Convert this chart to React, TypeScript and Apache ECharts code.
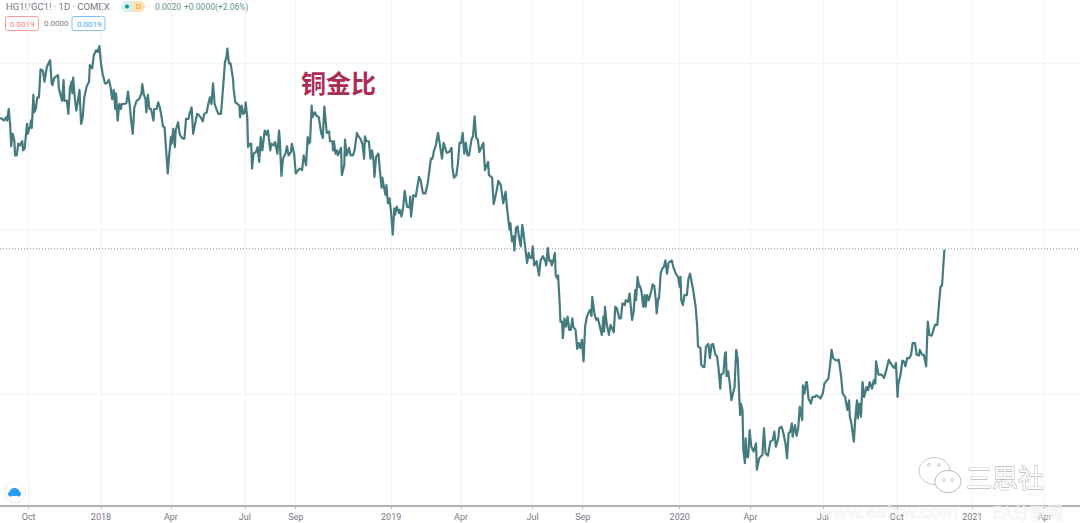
import React, { useEffect, useRef } from "react";
import * as echarts from "echarts";

// Day offset from the left edge of the window, ratio in millionths
const trace2017: number[][] = [[0,2134],[3,2133],[5,2131],[8,2135],[9,2131],[11,2145],[13,2123],[14,2100],[16,2115],[18,2107],[19,2089],[21,2089],[23,2103],[25,2101],[28,2106],[29,2095],[31,2097],[34,2127],[35,2115],[38,2125],[39,2131],[40,2122],[42,2162],[43,2141],[45,2145],[47,2159],[49,2159],[51,2193],[54,2191],[56,2178],[59,2196],[61,2200],[63,2204],[65,2176],[66,2174],[68,2182],[70,2184],[73,2186],[74,2170],[75,2166],[78,2155],[80,2180],[81,2155],[84,2155],[86,2139],[88,2170],[90,2178],[91,2164],[92,2183],[94,2159],[96,2143],[98,2155],[100,2168],[102,2127],[104,2135],[106,2159],[109,2172],[112,2178],[113,2198],[116,2194],[118,2210],[121,2216],[123,2214],[125,2221]];
const trace2018a: number[][] = [[127,2200],[129,2188],[132,2176],[134,2176],[137,2180],[139,2172],[141,2157],[143,2168],[145,2145],[146,2164],[148,2131],[150,2151],[152,2145],[153,2151],[156,2151],[159,2152],[161,2166],[163,2151],[165,2131],[167,2115],[169,2147],[172,2155],[175,2157],[178,2164],[179,2175],[181,2162],[183,2157],[184,2141],[186,2162],[188,2145],[190,2145],[193,2131],[194,2145],[197,2145],[199,2153],[201,2147],[203,2137],[205,2124],[207,2123],[209,2095],[211,2067],[213,2091],[215,2111],[216,2103],[218,2121],[220,2099],[221,2119],[224,2129],[226,2115],[228,2111],[231,2109],[232,2109],[234,2133],[237,2133],[239,2141],[241,2147],[243,2115],[245,2125],[248,2139],[250,2138],[253,2134],[255,2130],[257,2139],[260,2141],[262,2151],[264,2159],[266,2151],[268,2176],[270,2151],[273,2143],[275,2139],[278,2139],[281,2176],[283,2202],[285,2208],[286,2218],[288,2200],[290,2200],[293,2182],[294,2168],[296,2153],[299,2151],[301,2149],[302,2135],[304,2149],[306,2139],[308,2141],[309,2153],[311,2135],[312,2099],[314,2103],[316,2103],[317,2073],[319,2091],[322,2093],[324,2099],[326,2081],[328,2111],[330,2095],[333,2119],[335,2114],[337,2119],[340,2095],[341,2103],[344,2101],[346,2105],[349,2091],[351,2119],[352,2107],[354,2064],[356,2085],[359,2091],[361,2100],[363,2089],[366,2093],[367,2103],[370,2091],[372,2067],[375,2071],[377,2073],[380,2071],[382,2089],[385,2077],[387,2111],[388,2103],[390,2105],[392,2149],[393,2135],[396,2141],[398,2137],[401,2135],[404,2116],[406,2110],[408,2148],[411,2116],[414,2118],[415,2106],[418,2106],[419,2095],[420,2106],[422,2091],[424,2095],[425,2089],[427,2093],[429,2098],[430,2065],[433,2077],[434,2108],[436,2089],[439,2098],[441,2089],[444,2089],[446,2095],[449,2116],[451,2112],[454,2108],[456,2102],[458,2085],[459,2112],[461,2106],[464,2106],[466,2085],[468,2095],[470,2081],[471,2063],[473,2087],[476,2091],[478,2069],[480,2050],[481,2062],[483,2050],[485,2041],[486,2053],[488,2031],[490,2037]];
const trace2019: number[][] = [[492,2019],[494,1993],[496,2025],[497,2017],[499,2027],[502,2019],[503,2023],[505,2015],[507,2025],[509,2046],[512,2027],[515,2026],[516,2039],[517,2015],[520,2041],[523,2039],[527,2063],[529,2059],[532,2043],[535,2043],[538,2055],[542,2085],[544,2085],[546,2095],[548,2100],[551,2116],[553,2104],[556,2085],[558,2104],[562,2092],[565,2093],[568,2098],[569,2075],[571,2062],[574,2065],[576,2079],[578,2104],[580,2104],[582,2116],[584,2091],[586,2104],[588,2089],[590,2089],[593,2108],[595,2112],[597,2136],[599,2110],[601,2108],[603,2093],[608,2104],[610,2071],[614,2081],[615,2065],[619,2062],[621,2030],[624,2043],[627,2058],[630,2053],[633,2031],[636,2045],[638,2023],[641,1999],[642,2007],[644,1985],[646,1991],[647,1974],[649,2001],[651,2003],[653,1989],[655,1979],[657,2005],[659,1991],[662,1967],[663,1959],[665,1971],[667,1965],[669,1965],[670,1979],[672,1956],[675,1961],[678,1944],[680,1962],[683,1967],[686,1961],[687,1956],[689,1977],[691,1961],[693,1962],[694,1956],[696,1962],[698,1971],[699,1944],[701,1940],[702,1944],[704,1910],[705,1888],[707,1888],[708,1868],[710,1892],[712,1882],[714,1894],[716,1878],[718,1878],[720,1892],[721,1882],[724,1878],[726,1855],[728,1862],[730,1856],[732,1866],[734,1840],[736,1882],[738,1893],[740,1898],[742,1902],[744,1895],[745,1918],[748,1896],[750,1890],[752,1892],[755,1880],[757,1872],[759,1894],[760,1876],[761,1906],[763,1886],[766,1872],[768,1884],[770,1880],[772,1875],[774,1906],[776,1904],[779,1892],[781,1892],[783,1910],[786,1908],[787,1914],[790,1912],[792,1922],[795,1890],[797,1900],[799,1926],[800,1914],[802,1942],[804,1930],[805,1931],[807,1924],[809,1906],[811,1920],[812,1906],[814,1920],[816,1914],[819,1924],[821,1933],[823,1931],[825,1914],[826,1898],[828,1916],[829,1916],[831,1946],[833,1952],[835,1954],[837,1962],[839,1946],[841,1959],[845,1962],[847,1954]];
const trace2020: number[][] = [[850,1946],[853,1942],[855,1930],[856,1942],[857,1914],[859,1908],[861,1920],[864,1920],[866,1940],[868,1946],[870,1936],[872,1926],[875,1906],[877,1882],[878,1858],[881,1856],[882,1836],[885,1833],[886,1833],[888,1858],[891,1861],[893,1844],[895,1860],[897,1861],[900,1848],[902,1846],[904,1830],[906,1807],[907,1824],[910,1826],[912,1850],[913,1851],[914,1822],[916,1828],[918,1813],[920,1793],[924,1809],[926,1854],[928,1842],[930,1795],[931,1775],[932,1789],[934,1781],[935,1733],[937,1717],[938,1747],[939,1725],[941,1724],[943,1757],[945,1737],[948,1731],[951,1741],[952,1709],[955,1723],[959,1727],[961,1759],[963,1729],[966,1726],[969,1743],[972,1745],[974,1755],[976,1737],[979,1747],[980,1759],[983,1761],[985,1755],[988,1741],[990,1723],[992,1753],[994,1755],[996,1765],[997,1749],[1000,1763],[1002,1750],[1004,1759],[1006,1785],[1009,1769],[1010,1811],[1012,1801],[1014,1815],[1015,1815],[1017,1795],[1020,1789],[1022,1797],[1025,1797],[1027,1799],[1030,1797],[1032,1795],[1035,1801],[1037,1813],[1040,1817],[1042,1819],[1044,1834],[1046,1854],[1048,1844],[1050,1842],[1053,1841],[1055,1842],[1058,1822],[1060,1801],[1063,1797],[1066,1781],[1068,1793],[1069,1773],[1071,1765],[1074,1743],[1076,1773],[1078,1793],[1079,1771],[1081,1789],[1083,1773],[1085,1815],[1087,1797],[1090,1809],[1092,1805],[1094,1815],[1097,1807],[1099,1817],[1101,1813],[1102,1840],[1105,1824],[1107,1824],[1109,1824],[1112,1820],[1115,1830],[1118,1842],[1120,1838],[1123,1834],[1125,1832],[1127,1838],[1129,1797],[1130,1813],[1133,1825],[1135,1841],[1137,1840],[1139,1834],[1141,1844],[1144,1844],[1146,1848],[1148,1862],[1151,1862],[1153,1848],[1156,1847],[1157,1854],[1160,1848],[1162,1848],[1165,1834],[1167,1888],[1169,1872],[1172,1871],[1176,1884],[1179,1884],[1181,1908],[1183,1930],[1185,1932],[1187,1962],[1188,1975]];

const tickDays = [36, 127, 215, 308, 372, 492, 580, 670, 733, 855, 944, 1035, 1128, 1223, 1314];
const tickLabels = ["Oct", "2018", "Apr", "Jul", "Sep", "2019", "Apr", "Jul", "Sep", "2020", "Apr", "Jul", "Oct", "2021", "Apr"];
const gridLevels = [0.0018, 0.002, 0.0022];
const lastPriceLine = 0.001976;
const axisStartDay = 0;
const axisEndDay = 1358.5;

const UI = "Roboto, 'Liberation Sans', sans-serif";
const CJK = "'Noto Sans CJK SC', sans-serif";
const LINE = "#457b7e";

export default function App() {
  const ref = useRef<HTMLDivElement>(null);
  useEffect(() => {
    const chart = echarts.init(ref.current!, undefined, { renderer: "svg" });
    const points = [...trace2017, ...trace2018a, ...trace2019, ...trace2020].map(([d, v]) => [d, v / 1e6]);
    const label = (x: number, y: number, text: string, fill: string, size = 9, extra: any = {}) => ({
      type: "text", x, y, silent: true,
      style: { text, fill, font: `${extra.weight || "normal"} ${size}px ${extra.family || UI}`, textVerticalAlign: "middle", ...extra.style },
    });
    chart.setOption({
      animation: false,
      backgroundColor: "#ffffff",
      grid: { left: 0, right: 0, top: 0, bottom: 17 },
      xAxis: {
        type: "value",
        min: axisStartDay,
        max: axisEndDay,
        axisLine: { show: true, onZero: false, lineStyle: { color: "#9a9da6", width: 1.5 } },
        axisTick: { show: true, length: 3, lineStyle: { color: "#b2b5be" }, customValues: tickDays },
        axisLabel: {
          color: "#777a84", fontSize: 9, fontFamily: UI, margin: 6,
          customValues: tickDays, hideOverlap: false,
          showMinLabel: true, showMaxLabel: true,
          formatter: (v: number) => tickLabels[tickDays.indexOf(v)] ?? "",
        },
        splitLine: { show: true, lineStyle: { color: "#f2f3f7", width: 1 } },
      },
      yAxis: {
        type: "value",
        min: 0.0016652,
        max: 0.0022767,
        axisLine: { show: false },
        axisTick: { show: false, customValues: gridLevels },
        axisLabel: { show: false, customValues: gridLevels },
        splitLine: { show: true, lineStyle: { color: "#f3f4f7", width: 1 } },
      },
      series: [
        {
          type: "line",
          data: [[axisStartDay, lastPriceLine], [axisEndDay, lastPriceLine]],
          showSymbol: false,
          silent: true,
          lineStyle: { color: "#76a0a0", type: [1, 2], width: 1 },
          z: 3,
        },
        {
          type: "line",
          data: points,
          showSymbol: false,
          smooth: false,
          lineStyle: { color: LINE, width: 2.2, join: "round" },
          itemStyle: { color: LINE },
          silent: true,
          z: 5,
        },
      ],
      graphic: [
        label(6, 6.5, "HG1!/GC1! · 1D · COMEX", "#787b86", 9.5),
        { type: "rect", shape: { x: 121, y: 1, width: 24, height: 11, r: 5.5 }, style: { fill: "#d9f0ec" } },
        { type: "rect", shape: { x: 133, y: 1, width: 12, height: 11, r: [0, 5.5, 5.5, 0] }, style: { fill: "#fde0b4" } },
        { type: "circle", shape: { cx: 127, cy: 6.5, r: 2 }, style: { fill: "#089981" } },
        label(136, 6.5, "D", "#ff9800", 8),
        label(155, 6.5, "0.0020", "#5e9290", 8.5),
        label(184, 6.5, "+0.0000", "#5e9290", 8.5),
        label(215, 6.5, "(+2.06%)", "#5e9290", 8.5),
        { type: "rect", shape: { x: 5.5, y: 16.5, width: 33, height: 14, r: 2 }, style: { fill: "#fff", stroke: "#f99", lineWidth: 1 } },
        { ...label(10, 24, "0.0019", "#f77c80", 8), z: 2 },
        label(44, 23, "0.0000", "#787b86", 8),
        { type: "rect", shape: { x: 72, y: 16.5, width: 33, height: 14, r: 2 }, style: { fill: "#fff", stroke: "#7cc0f5", lineWidth: 1 } },
        { ...label(77, 24, "0.0019", "#42a5f5", 8), z: 2 },
        label(301, 82, "铜金比", "#ab2c57", 25, { weight: "bold", family: CJK }),
        // platform badge
        { type: "circle", shape: { cx: 15, cy: 492, r: 10.5 }, style: { fill: "#fff", stroke: "#eceef2", lineWidth: 1 } },
        { type: "ellipse", shape: { cx: 14.5, cy: 492, rx: 5, ry: 4 }, style: { fill: "#2f9cf0" } },
        { type: "circle", shape: { cx: 10.5, cy: 494, r: 2.5 }, style: { fill: "#2f9cf0" } },
        { type: "circle", shape: { cx: 18.5, cy: 494, r: 2.5 }, style: { fill: "#2f9cf0" } },
        // watermarks
        { type: "ellipse", z: 20, shape: { cx: 934.5, cy: 471, rx: 15.5, ry: 13.5 }, style: { fill: "#fff", stroke: "#c8c8c8", lineWidth: 1 } },
        { type: "ellipse", z: 20, shape: { cx: 948, cy: 481.5, rx: 13, ry: 11 }, style: { fill: "#fff", stroke: "#bbbbbb", lineWidth: 1 } },
        { type: "circle", z: 21, shape: { cx: 929, cy: 465, r: 1.4 }, style: { fill: "#fff", stroke: "#aaa", lineWidth: 0.7 } },
        { type: "circle", z: 21, shape: { cx: 939, cy: 465, r: 1.4 }, style: { fill: "#fff", stroke: "#aaa", lineWidth: 0.7 } },
        { type: "circle", z: 21, shape: { cx: 944, cy: 480, r: 1.4 }, style: { fill: "#fff", stroke: "#aaa", lineWidth: 0.7 } },
        { type: "circle", z: 21, shape: { cx: 952, cy: 480, r: 1.4 }, style: { fill: "#fff", stroke: "#aaa", lineWidth: 0.7 } },
        { ...label(966, 476, "三思社", "#ffffff", 26, { family: CJK, style: { stroke: "#9a9a9a", lineWidth: 0.8 } }), z: 22 },
        { ...label(819, 511, "www.eafxw.com", "#ffffff", 19, { family: UI, style: { stroke: "#d6d6d6", lineWidth: 0.6, opacity: 0.65 } }), z: 22 },
        { ...label(992, 511, "EA分享网", "#ffffff", 17, { family: CJK, style: { stroke: "#d6d6d6", lineWidth: 0.6, opacity: 0.65 } }), z: 22 },
      ],
    });
    return () => chart.dispose();
  }, []);
  return <div ref={ref} style={{ position: "fixed", left: 0, top: 0, width: 1080, height: 523, background: "#fff" }} />;
}
